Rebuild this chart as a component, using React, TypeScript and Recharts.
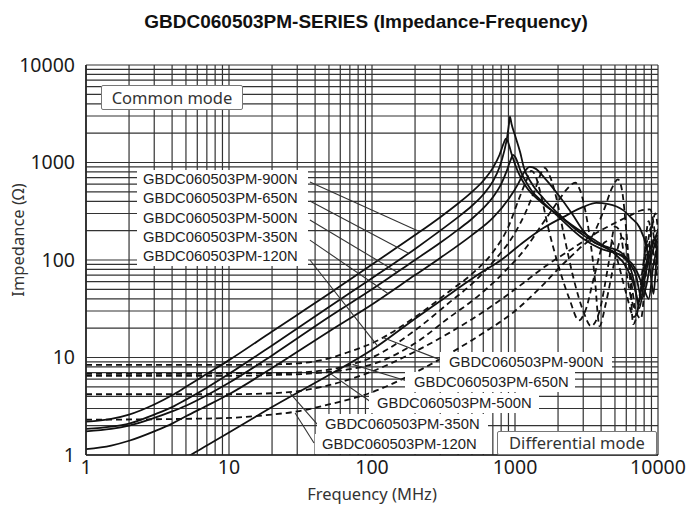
import React from "react";
import { LineChart, Line, XAxis, YAxis, CartesianGrid, ReferenceLine } from "recharts";

// ---- axis ticks ----
const DECADES = [1, 10, 100, 1000];
const LOG_TICKS: number[] = [];
DECADES.forEach((d) => {
  for (let k = 1; k <= 9; k++) LOG_TICKS.push(d * k);
});
LOG_TICKS.push(10000);
const MAJOR_TICKS = [1, 10, 100, 1000, 10000];

// ---- Common mode (solid) curves: [frequency MHz, impedance ohm] ----
const CM_900N: [number, number][] = [
  [1, 2.2], [1.5, 2.35], [2, 2.6], [3, 3.3], [4, 4.1], [5, 5], [7, 6.8], [10, 9.4], [20, 18.5],
  [50, 45], [100, 90], [200, 180], [300, 275], [400, 380], [500, 500], [600, 650], [700, 880],
  [780, 1200], [830, 1550], [865, 1760], [890, 1650], [950, 1200], [1050, 800], [1200, 560],
  [1500, 400], [2000, 290], [3000, 190], [4000, 145], [5000, 115], [6000, 85], [6800, 55],
  [7300, 38], [7800, 60], [8500, 110], [9300, 160], [10000, 180],
];
const CM_650N: [number, number][] = [
  [1, 1.85], [1.5, 1.95], [2, 2.1], [3, 2.6], [4, 3.1], [5, 3.7], [7, 4.9], [10, 6.8], [20, 13.3],
  [50, 33], [100, 65], [200, 130], [300, 200], [400, 275], [500, 360], [600, 470], [700, 640],
  [780, 900], [840, 1300], [880, 1800], [905, 2400], [922, 2950], [945, 2500], [1000, 1900],
  [1090, 1250], [1150, 900], [1300, 620], [1600, 420], [2000, 300], [3000, 180], [4000, 140],
  [5000, 120], [6000, 100], [7000, 70], [7700, 40], [8300, 55], [9000, 110], [10000, 170],
];
const CM_500N: [number, number][] = [
  [1, 1.75], [1.5, 1.85], [2, 2], [3, 2.4], [4, 2.8], [5, 3.2], [7, 4.1], [10, 5.5], [20, 10.5],
  [50, 26], [100, 50], [200, 100], [300, 150], [400, 205], [500, 265], [600, 340], [700, 440],
  [800, 600], [870, 800], [930, 1050], [970, 1200], [1010, 1120], [1100, 800], [1300, 520],
  [1600, 380], [2000, 280], [3000, 165], [4000, 130], [5000, 118], [6000, 105], [7000, 80],
  [8000, 50], [8600, 40], [9300, 90], [10000, 140],
];
const CM_350N: [number, number][] = [
  [1, 1.15], [1.5, 1.25], [2, 1.4], [3, 1.75], [4, 2.1], [5, 2.5], [7, 3.2], [10, 4.2], [20, 7.8],
  [50, 18.5], [100, 35], [200, 70], [300, 105], [500, 180], [700, 270], [900, 420], [1050, 600],
  [1150, 780], [1270, 900], [1400, 860], [1600, 700], [2000, 470], [2500, 300], [3000, 200],
  [3600, 150], [4500, 135], [5500, 120], [6300, 90], [6800, 60], [7400, 32], [8000, 60],
  [9000, 130], [10000, 200],
];
const CM_120N: [number, number][] = [
  [4, 0.75], [5.4, 1], [7, 1.25], [10, 1.7], [20, 3.1], [50, 6.6], [100, 12], [200, 25], [300, 38],
  [570, 73], [800, 100], [1150, 153], [1600, 215], [2170, 275], [3000, 350], [3700, 385],
  [4500, 375], [5700, 325], [6500, 270], [7400, 218], [8300, 135], [8900, 70], [9300, 45],
  [9700, 90], [10000, 140],
];

// ---- Differential mode (dashed) curves ----
const DM_900N: [number, number][] = [
  [1, 8.4], [5, 8.4], [10, 8.4], [20, 8.5], [30, 8.7], [50, 9.8], [70, 11.5], [100, 14], [200, 26],
  [350, 48], [500, 72], [700, 120], [900, 220], [1050, 400], [1200, 650], [1300, 820], [1380, 750],
  [1500, 500], [1700, 220], [2000, 90], [2400, 40], [2800, 24], [3100, 30], [3600, 70], [4200, 150],
  [4700, 160], [5200, 100], [6000, 45], [6800, 26], [7500, 40], [8300, 120], [9000, 220],
  [9500, 150], [10000, 90],
];
const DM_650N: [number, number][] = [
  [1, 6.8], [5, 6.8], [10, 6.9], [20, 6.9], [40, 7.2], [70, 8.4], [100, 10], [200, 19], [350, 37],
  [500, 57], [700, 95], [1000, 190], [1200, 320], [1400, 560], [1550, 820], [1620, 880],
  [1700, 800], [1900, 500], [2200, 180], [2600, 60], [3000, 30], [3400, 21], [3900, 30],
  [4500, 90], [5000, 220], [5400, 200], [5900, 90], [6500, 40], [7100, 30], [7800, 70],
  [8600, 250], [9200, 130], [10000, 60],
];
const DM_500N: [number, number][] = [
  [1, 6.5], [5, 6.5], [10, 6.5], [20, 6.6], [40, 6.9], [70, 7.6], [100, 8.5], [200, 14], [350, 26],
  [500, 38], [800, 70], [1200, 135], [1600, 250], [2000, 400], [2300, 530], [2640, 620],
  [2850, 520], [3200, 250], [3600, 70], [3900, 21], [4300, 35], [5000, 100], [5600, 170],
  [6000, 140], [6500, 60], [7000, 30], [7600, 25], [8200, 70], [9000, 200], [9600, 300],
  [10000, 200],
];
const DM_350N: [number, number][] = [
  [1, 4.2], [5, 4.2], [10, 4.2], [20, 4.3], [30, 4.5], [50, 5.2], [100, 7.2], [200, 11.5],
  [350, 18], [570, 28], [1000, 50], [1700, 90], [2500, 130], [3500, 180], [5000, 240], [6500, 290],
  [7500, 320], [8800, 330], [9300, 240], [9800, 120], [10000, 80],
];
const DM_120N: [number, number][] = [
  [1, 2.3], [5, 2.35], [10, 2.4], [20, 2.6], [30, 2.8], [50, 3.3], [100, 4.4], [200, 7], [350, 11],
  [570, 17], [1000, 30], [1500, 52], [2070, 85], [2800, 130], [3500, 180], [4200, 330], [4800, 560],
  [5250, 670], [5600, 520], [6000, 200], [6400, 60], [6700, 22], [7200, 30], [7800, 80],
  [8500, 160], [9200, 90], [10000, 180],
];

// ---- label names ----
const PART_NAMES = [
  "GBDC060503PM-900N",
  "GBDC060503PM-650N",
  "GBDC060503PM-500N",
  "GBDC060503PM-350N",
  "GBDC060503PM-120N",
];

// leader lines (data coordinates): [startF, startZ, endF, endZ]
const CM_LEADERS: [number, number, number, number][] = [
  [36.8, 631, 216, 195],
  [36.8, 403, 180, 117],
  [36.8, 257, 150, 75],
  [36.8, 160, 130, 45],
  [36.8, 100, 110, 13],
];
const DM_LEADERS: [number, number, number, number][] = [
  [304, 9.4, 119, 16],
  [176, 5.74, 73, 8.5],
  [98.4, 3.5, 50, 7],
  [41.9, 2.03, 26.7, 4.3],
  [39.3, 1.33, 29, 2.7],
];

const toPts = (arr: [number, number][]) => arr.map(([f, z]) => ({ f, z }));

const SERIES = [
  { key: "cm900", data: CM_900N, dashed: false },
  { key: "cm650", data: CM_650N, dashed: false },
  { key: "cm500", data: CM_500N, dashed: false },
  { key: "cm350", data: CM_350N, dashed: false },
  { key: "cm120", data: CM_120N, dashed: false },
  { key: "dm900", data: DM_900N, dashed: true },
  { key: "dm650", data: DM_650N, dashed: true },
  { key: "dm500", data: DM_500N, dashed: true },
  { key: "dm350", data: DM_350N, dashed: true },
  { key: "dm120", data: DM_120N, dashed: true },
];

const fmt = (v: number) => (MAJOR_TICKS.includes(v) ? String(v) : "");

const tickStyle = { fontSize: 19.5, fill: "#1a1a1a", fontFamily: "Noto Sans" };
const labelFont = "'Liberation Sans', Arial, sans-serif";

const DM_BOXES = [
  { left: 440, top: 352, width: 172, textLeft: 449 },
  { left: 405, top: 372, width: 170, textLeft: 414 },
  { left: 369, top: 393, width: 170, textLeft: 377 },
  { left: 317, top: 414, width: 171, textLeft: 325 },
  { left: 315, top: 434, width: 170, textLeft: 322 },
];

export default function App() {
  return (
    <div style={{ position: "absolute", left: 0, top: 0, width: 691, height: 507, background: "#fff" }}>
      <LineChart width={691} height={507} margin={{ top: 65, right: 33, bottom: 0, left: 0 }}>
        <CartesianGrid stroke="#333" strokeWidth={1.2} />
        <XAxis
          dataKey="f"
          type="number"
          scale="log"
          domain={[1, 10000]}
          ticks={LOG_TICKS}
          interval={0}
          tickFormatter={fmt}
          tickLine={false}
          tickSize={0}
          tickMargin={5}
          axisLine={{ stroke: "#222", strokeWidth: 1.6 }}
          height={52}
          tick={tickStyle}
          allowDataOverflow
        />
        <YAxis
          dataKey="z"
          type="number"
          scale="log"
          domain={[1, 10000]}
          ticks={LOG_TICKS}
          interval={0}
          tickFormatter={fmt}
          tickLine={false}
          tickSize={0}
          tickMargin={11}
          axisLine={{ stroke: "#222", strokeWidth: 1.6 }}
          width={86}
          tick={tickStyle}
          allowDataOverflow
        />
        {SERIES.map((s) => (
          <Line
            key={s.key}
            data={toPts(s.data)}
            dataKey="z"
            type="monotone"
            stroke="#111"
            strokeWidth={1.8}
            strokeDasharray={s.dashed ? "6 4" : undefined}
            dot={false}
            activeDot={false}
            isAnimationActive={false}
          />
        ))}
        {CM_LEADERS.concat(DM_LEADERS).map((l, i) => (
          <ReferenceLine
            key={"ld" + i}
            segment={[
              { x: l[0], y: l[1] },
              { x: l[2], y: l[3] },
            ]}
            stroke="#333"
            strokeWidth={1.1}
            ifOverflow="visible"
          />
        ))}
      </LineChart>

      {/* title */}
      <div
        style={{
          position: "absolute", left: 0, top: 10, width: 732, textAlign: "center",
          fontFamily: labelFont, fontWeight: "bold", fontSize: 19, color: "#111", lineHeight: "24px",
        }}
      >
        GBDC060503PM-SERIES (Impedance-Frequency)
      </div>

      {/* y axis title */}
      <div style={{ position: "absolute", left: 18, top: 240, width: 0, height: 0 }}>
        <div
          style={{
            position: "absolute", left: -70, top: -11, width: 140, textAlign: "center",
            transform: "rotate(-90deg)", fontFamily: "Noto Sans", fontSize: 16.5, color: "#333", lineHeight: "22px",
            whiteSpace: "nowrap",
          }}
        >
          Impedance (Ω)
        </div>
      </div>

      {/* x axis title */}
      <div
        style={{
          position: "absolute", left: 272, top: 483, width: 200, textAlign: "center",
          fontFamily: "Noto Sans", fontSize: 16.5, color: "#333", lineHeight: "22px",
        }}
      >
        Frequency (MHz)
      </div>

      {/* mode boxes */}
      <div
        style={{
          position: "absolute", left: 101, top: 85, width: 140, height: 23, border: "1px solid #777",
          background: "#fff", fontFamily: "Noto Sans", fontSize: 16.5, color: "#333", lineHeight: "23px",
          textAlign: "center", borderRadius: 2,
        }}
      >
        Common mode
      </div>
      <div
        style={{
          position: "absolute", left: 497, top: 431, width: 158, height: 22, border: "1px solid #777",
          background: "#fff", fontFamily: "Noto Sans", fontSize: 16.5, color: "#333", lineHeight: "22px",
          textAlign: "center", borderRadius: 2,
        }}
      >
        Differential mode
      </div>

      {/* common mode labels */}
      <div style={{ position: "absolute", left: 137, top: 170, width: 171, height: 96, background: "#fff" }}>
        {PART_NAMES.map((n, i) => (
          <div
            key={n}
            style={{
              position: "absolute", left: 6, top: i * 19.3, fontFamily: labelFont, fontSize: 14.8,
              color: "#222", lineHeight: "19px", whiteSpace: "nowrap",
            }}
          >
            {n}
          </div>
        ))}
      </div>

      {/* differential mode labels */}
      {PART_NAMES.map((n, i) => (
        <div
          key={"dm" + n}
          style={{
            position: "absolute", left: DM_BOXES[i].left, top: DM_BOXES[i].top, width: DM_BOXES[i].width,
            height: 20, background: "#fff",
          }}
        >
          <div
            style={{
              position: "absolute", left: DM_BOXES[i].textLeft - DM_BOXES[i].left, top: 0,
              fontFamily: labelFont, fontSize: 14.8, color: "#222", lineHeight: "20px", whiteSpace: "nowrap",
            }}
          >
            {n}
          </div>
        </div>
      ))}
    </div>
  );
}
